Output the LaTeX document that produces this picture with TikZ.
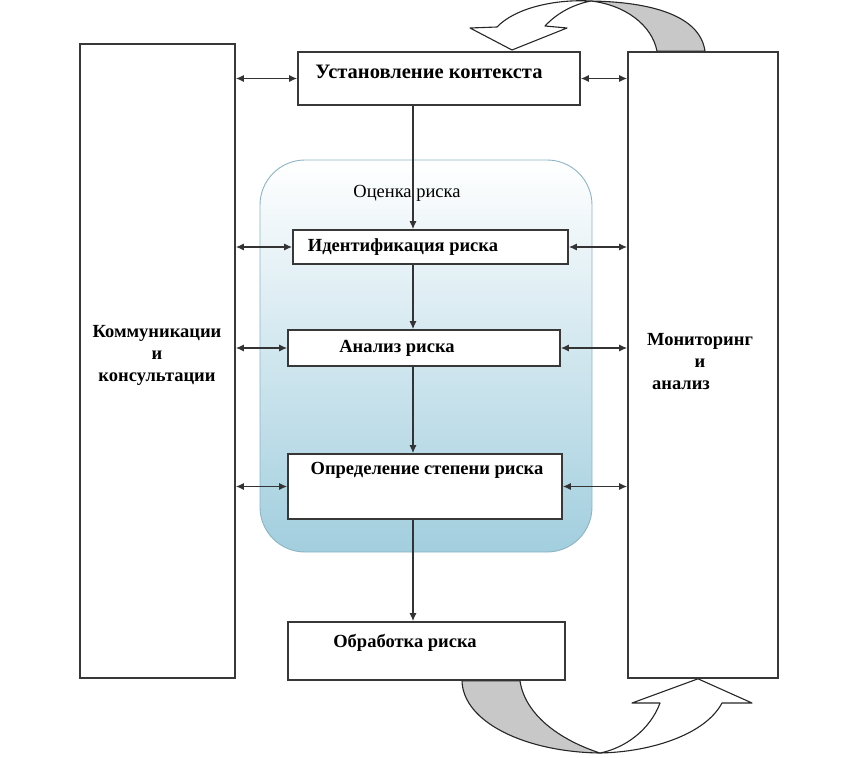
\documentclass[tikz,border=0pt]{standalone}
\usepackage{fontspec}
\setmainfont{Liberation Serif}
\usepackage{tikz}
\usetikzlibrary{arrows.meta}
\usetikzlibrary{calc}
\definecolor{riskblue}{RGB}{162,206,222}
\definecolor{riskedge}{RGB}{140,180,196}
\definecolor{twistgray}{RGB}{200,200,200}
\tikzstyle{block} = [draw=black!78, line width=1.6pt, fill=white, inner sep=0pt]
\tikzstyle{txt} = [font=\bfseries\fontsize{18.5}{22}\selectfont, align=center, inner sep=0pt]
\tikzstyle{arrow} = [{Latex[length=8pt, width=7pt]}-{Latex[length=8pt, width=7pt]}, draw=black!80, line width=1.3pt]
\tikzstyle{down} = [-{Latex[length=8pt, width=7pt]}, draw=black!80, line width=1.3pt]
\tikzstyle{twist} = [draw=black!85, line width=1.1pt, line join=round]

\begin{document}
\begin{tikzpicture}[x=1pt, y=-1pt]
			\useasboundingbox (0,0) rectangle (861,757);
			
			\node (ocenka) [draw=riskedge, line width=0.9pt, rounded corners=45pt,
				top color=white, middle color=riskblue!62, bottom color=riskblue,
				minimum width=332pt, minimum height=392pt] at (426,356) {};
			\node (ocenka-t) [txt, font=\fontsize{18.5}{22}\selectfont] at (407,193) {Оценка риска};
			
			\node (kom) [block, minimum width=155pt, minimum height=634pt] at (157.5,361) {};
			\node (kom-t) [txt] at (157,355) {Коммуникации\\и\\консультации};
			
			\node (mon) [block, minimum width=150pt, minimum height=626pt] at (703,365) {};
			\node (mon-t) [txt] at (700,362) {Мониторинг\\и\\анализ\hspace*{38pt}};
			
			\node (ust) [block, minimum width=282pt, minimum height=53pt] at (439,78.5) {};
			\node (ust-t) [txt, font=\bfseries\fontsize{20.5}{22}\selectfont] at (429,72) {Установление контекста};
			
			\node (ident) [block, minimum width=275pt, minimum height=34pt] at (430.5,247) {};
			\node (ident-t) [txt] at (403,247) {Идентификация риска};
			
			\node (anal) [block, minimum width=272pt, minimum height=36pt] at (424,348) {};
			\node (anal-t) [txt] at (397,348) {Анализ риска};
			
			\node (opr) [block, minimum width=274pt, minimum height=65pt] at (425,486.5) {};
			\node (opr-t) [txt] at (427,470) {Определение степени риска};
			
			\node (obr) [block, minimum width=277pt, minimum height=58pt] at (426.5,651) {};
			\node (obr-t) [txt] at (405,643) {Обработка риска};
			
			%основная цепочка
			\coordinate (ax) at (413,0);
			\draw [down] (ust.south -| ax) -- (ident.north -| ax);
			\draw [down] (ident.south -| ax) -- (anal.north -| ax);
			\draw [down] (anal.south -| ax) -- (opr.north -| ax);
			\draw [down] (opr.south -| ax) -- (obr.north -| ax);
			
			%двусторонние связи
			\foreach \b in {ust, ident, anal, opr} {
				\draw [arrow] (kom.east |- \b.west) -- (\b.west);
				\draw [arrow] (\b.east) -- (\b.east -| mon.west);
			}
			
			%круговые стрелки
			\filldraw [twist, fill=white] (470,28) -- (512,50) -- (567,28) -- (545,26)
				.. controls (558,12) and (575,4) .. (591,1)
				.. controls (555,-1) and (515,8) .. (497,27) -- cycle;
			\filldraw [twist, fill=twistgray] (591,1) .. controls (650,2) and (700,15) .. (mon.north -| 705,0)
				-- (mon.north -| 657,0) .. controls (652,25) and (625,5) .. (591,1) -- cycle;
			
			\filldraw [twist, fill=twistgray] (obr.south -| 462,0) .. controls (463,722) and (525,752) .. (600,753)
				.. controls (560,740) and (525,715) .. (obr.south -| 520,0) -- cycle;
			\filldraw [twist, fill=white] (600,753) .. controls (650,752) and (705,735) .. (722,703)
				-- (752,703) -- (mon.south -| 698,0) -- (632,703) -- (660,703)
				.. controls (650,730) and (625,748) .. (600,753) -- cycle;
		\end{tikzpicture}
\end{document}
